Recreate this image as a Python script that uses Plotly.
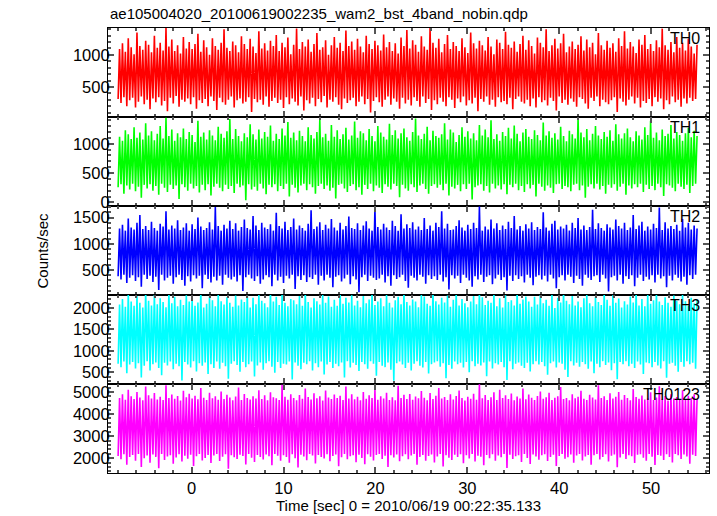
import numpy as np
import plotly.graph_objects as go
from plotly.subplots import make_subplots

title_text = "ae105004020_20100619002235_wam2_bst_4band_nobin.qdp"
x_title = "Time [sec] 0 = 2010/06/19 00:22:35.133"
y_title = "Counts/sec"
band_names = ["TH0", "TH1", "TH2", "TH3", "TH0123"]
band_colors = ["#ff0000", "#00ff00", "#0000ff", "#00ffff", "#ff00ff"]
t_start, t_end = -8.0, 55.0

th0 = [310, 1090, 250, 1180, 340, 1050, 200, 1260, 290, 1120,
       330, 1010, 180, 1350, 270, 1140, 350, 1080, 230, 1220,
       300, 1160, 150, 1040, 320, 1300, 260, 1110, 340, 1190,
       210, 1070, 280, 1420, 120, 1130, 330, 1240, 240, 1060,
       360, 1150, 190, 1020, 300, 1280, 270, 1100, 320, 1200,
       230, 1090, 340, 1170, 160, 1330, 290, 1050, 250, 1230,
       310, 1120, 200, 1000, 350, 1260, 280, 1140, 140, 1080,
       330, 1190, 260, 1400, 220, 1110, 300, 1060, 350, 1210,
       180, 1150, 290, 1040, 320, 1290, 240, 1170, 270, 1090,
       340, 1250, 110, 1130, 310, 1030, 260, 1370, 300, 1100,
       220, 1180, 350, 1070, 190, 1220, 280, 1140, 330, 1310,
       250, 1060, 300, 1190, 170, 1120, 340, 1270, 230, 1010,
       320, 1160, 270, 1410, 210, 1090, 350, 1200, 130, 1130,
       290, 1240, 240, 1050, 330, 1170, 200, 1340, 310, 1080,
       260, 1120, 360, 1230, 180, 1000, 300, 1150, 270, 1280,
       340, 1110, 220, 1190, 150, 1060, 320, 1380, 250, 1140,
       290, 1210, 330, 1080, 200, 1250, 270, 1130, 350, 1040,
       230, 1300, 310, 1170, 100, 1090, 280, 1220, 340, 1150,
       260, 1070, 190, 1320, 300, 1120, 350, 1200, 220, 1060,
       320, 1180, 270, 1020, 160, 1270, 330, 1140, 240, 1390,
       300, 1100, 210, 1230, 340, 1160, 280, 1050, 190, 1290,
       350, 1130, 250, 1080, 310, 1420, 140, 1190, 290, 1110,
       230, 1250, 330, 1040, 270, 1170, 200, 1310, 340, 1090,
       300, 1200, 170, 1140, 320, 1060, 260, 1260, 350, 1120,
       210, 1030, 290, 1350, 240, 1180, 330, 1100, 120, 1220,
       310, 1150, 270, 1070, 350, 1280, 220, 1130, 300, 1010,
       190, 1240, 340, 1190, 260, 1090, 280, 1360, 230, 1160,
       330, 1110, 150, 1210, 310, 1050, 350, 1170, 270, 1300,
       240, 1080, 300, 1230, 200, 1140, 320, 1020, 180, 1270,
       340, 1190, 260, 1120, 290, 1400, 210, 1060, 330, 1150,
       280, 1250, 130, 1100, 350, 1180, 250, 1330, 300, 1040,
       220, 1130, 320, 1210, 270, 1090, 190, 1160, 340, 1290,
       310, 1070, 240, 1240, 160, 1120, 330, 1190, 280, 1010,
       350, 1340, 200, 1150, 300, 1080, 260, 1220, 230, 1110,
       290, 1180, 340, 1050, 110, 1260, 320, 1140, 270, 1370,
       210, 1100, 300, 1200, 350, 1130, 240, 1030, 330, 1240,
       180, 1160, 280, 1310, 250, 1090, 310, 1170, 200, 1060,
       340, 1230, 270, 1120, 320, 1410, 150, 1150, 290, 1080,
       230, 1200, 350, 1040, 260, 1280, 300, 1110, 190, 1190,
       320, 1070, 240, 1250, 330, 1130, 280, 1020, 310, 1160]

th1 = [260, 1120, 310, 1050, 150, 1230, 290, 1160, 220, 1080,
       320, 1280, 190, 1100, 270, 1190, 80, 1070, 300, 1350,
       240, 1140, 310, 1210, 200, 1060, 280, 1170, 130, 1300,
       320, 1090, 250, 1440, 180, 1130, 300, 1240, 230, 1050,
       290, 1180, 60, 1110, 310, 1260, 260, 1080, 200, 1200,
       320, 1150, 240, 1030, 280, 1390, 170, 1120, 300, 1190,
       210, 1070, 310, 1230, 120, 1140, 270, 1060, 320, 1290,
       250, 1170, 190, 1100, 300, 1210, 230, 1420, 280, 1080,
       160, 1250, 320, 1130, 260, 1040, 290, 1180, 40, 1110,
       310, 1330, 220, 1160, 270, 1070, 200, 1240, 320, 1090,
       240, 1200, 140, 1120, 300, 1310, 260, 1050, 310, 1170,
       190, 1080, 280, 1260, 230, 1140, 320, 1370, 100, 1100,
       300, 1190, 250, 1060, 170, 1220, 290, 1130, 320, 1040,
       210, 1280, 310, 1150, 260, 1090, 150, 1200, 280, 1410,
       320, 1110, 230, 1170, 290, 1050, 200, 1320, 250, 1120,
       70, 1230, 300, 1080, 320, 1160, 240, 1270, 180, 1070,
       280, 1140, 310, 1380, 210, 1100, 260, 1210, 130, 1180,
       300, 1060, 230, 1250, 320, 1130, 190, 1040, 290, 1300,
       250, 1190, 160, 1120, 310, 1070, 270, 1340, 220, 1150,
       320, 1230, 280, 1090, 90, 1180, 300, 1260, 240, 1110,
       200, 1050, 310, 1200, 260, 1430, 180, 1140, 290, 1080,
       320, 1170, 230, 1290, 150, 1060, 280, 1220, 310, 1130,
       250, 1100, 300, 1160, 210, 1350, 320, 1070, 120, 1240,
       270, 1190, 240, 1030, 300, 1150, 190, 1280, 310, 1120,
       230, 1210, 320, 1090, 50, 1180, 260, 1060, 290, 1320,
       310, 1140, 200, 1240, 280, 1110, 170, 1400, 320, 1080,
       240, 1160, 290, 1050, 220, 1200, 310, 1130, 140, 1270,
       300, 1090, 260, 1310, 320, 1170, 210, 1040, 280, 1190,
       180, 1250, 310, 1120, 240, 1080, 300, 1230, 100, 1150,
       320, 1060, 270, 1360, 200, 1140, 290, 1210, 250, 1100,
       160, 1180, 310, 1070, 320, 1290, 230, 1130, 280, 1040,
       260, 1220, 190, 1160, 300, 1090, 320, 1440, 210, 1190,
       290, 1110, 80, 1250, 270, 1060, 310, 1170, 240, 1300,
       320, 1140, 220, 1080, 280, 1200, 150, 1120, 300, 1230,
       250, 1050, 310, 1330, 200, 1160, 270, 1090, 320, 1180,
       130, 1260, 290, 1110, 240, 1040, 310, 1210, 260, 1140,
       320, 1070, 180, 1280, 300, 1150, 230, 1390, 280, 1100,
       210, 1190, 320, 1060, 260, 1240, 110, 1130, 310, 1170,
       290, 1320, 250, 1090, 190, 1200, 320, 1150, 270, 1050,
       230, 1180, 300, 1270, 160, 1110, 280, 1220, 320, 1130]

th2 = [380, 1290, 320, 1360, 410, 1250, 250, 1480, 350, 1310,
       400, 1270, 290, 1400, 360, 1550, 180, 1280, 410, 1340,
       330, 1260, 390, 1420, 270, 1300, 370, 1250, 120, 1380,
       410, 1330, 300, 1620, 350, 1270, 390, 1350, 240, 1290,
       360, 1450, 410, 1260, 310, 1310, 200, 1390, 380, 1250,
       280, 1370, 400, 1280, 340, 1500, 390, 1330, 150, 1260,
       410, 1300, 330, 1410, 260, 1270, 370, 1700, 300, 1340,
       390, 1250, 220, 1360, 410, 1290, 350, 1440, 320, 1280,
       370, 1390, 280, 1250, 400, 1320, 100, 1460, 360, 1300,
       410, 1270, 340, 1530, 290, 1350, 380, 1260, 240, 1400,
       320, 1310, 400, 1280, 360, 1370, 190, 1250, 410, 1590,
       300, 1340, 370, 1290, 250, 1420, 390, 1260, 340, 1320,
       410, 1480, 140, 1270, 380, 1350, 310, 1300, 400, 1250,
       270, 1380, 360, 1640, 330, 1280, 410, 1330, 220, 1410,
       390, 1260, 300, 1360, 410, 1290, 350, 1470, 170, 1310,
       370, 1250, 400, 1400, 280, 1270, 340, 1340, 410, 1520,
       230, 1300, 380, 1280, 320, 1390, 75, 1260, 360, 1350,
       410, 1430, 290, 1290, 390, 1250, 350, 1680, 310, 1320,
       340, 1270, 410, 1380, 260, 1310, 380, 1260, 200, 1440,
       400, 1340, 330, 1250, 360, 1560, 410, 1290, 290, 1370,
       160, 1300, 390, 1410, 350, 1270, 300, 1330, 410, 1260,
       370, 1490, 240, 1280, 400, 1350, 330, 1250, 380, 1400,
       310, 1320, 410, 1620, 280, 1290, 360, 1380, 130, 1260,
       400, 1270, 340, 1340, 390, 1450, 250, 1310, 410, 1250,
       350, 1360, 300, 1280, 180, 1400, 380, 1300, 320, 1710,
       410, 1250, 270, 1330, 370, 1270, 400, 1460, 230, 1290,
       340, 1390, 410, 1260, 310, 1350, 360, 1280, 110, 1420,
       390, 1300, 290, 1530, 400, 1270, 330, 1340, 380, 1250,
       260, 1370, 410, 1290, 350, 1410, 210, 1260, 370, 1320,
       400, 1280, 320, 1600, 390, 1310, 280, 1250, 410, 1380,
       340, 1440, 150, 1270, 360, 1330, 400, 1290, 300, 1360,
       410, 1250, 370, 1400, 250, 1300, 390, 1490, 330, 1270,
       200, 1350, 410, 1260, 350, 1320, 310, 1650, 380, 1280,
       400, 1390, 270, 1300, 410, 1250, 340, 1370, 90, 1310,
       360, 1270, 390, 1460, 300, 1340, 410, 1290, 240, 1400,
       380, 1260, 330, 1310, 400, 1550, 190, 1280, 350, 1350,
       410, 1420, 290, 1250, 370, 1330, 320, 1270, 400, 1380,
       260, 1300, 410, 1690, 340, 1260, 380, 1410, 170, 1290,
       390, 1340, 300, 1280, 410, 1360, 350, 1250, 280, 1470,
       370, 1310, 220, 1400, 400, 1270, 330, 1350, 410, 1290]

th3 = [700, 2080, 620, 2210, 750, 2030, 480, 2350, 680, 2150,
       740, 2050, 590, 2280, 710, 2120, 380, 2010, 650, 2400,
       760, 2170, 540, 2060, 690, 2320, 730, 2090, 600, 2230,
       430, 2140, 720, 2020, 660, 2380, 750, 2110, 570, 2260,
       700, 2040, 640, 2190, 310, 2070, 740, 2300, 680, 2150,
       610, 2220, 760, 2050, 520, 2130, 710, 2410, 650, 2010,
       730, 2100, 460, 2270, 690, 2180, 600, 2040, 750, 2340,
       580, 2160, 720, 2080, 640, 2250, 350, 2120, 700, 2030,
       760, 2290, 670, 2060, 510, 2200, 740, 2140, 620, 2370,
       690, 2010, 750, 2240, 400, 2090, 660, 2310, 730, 2170,
       560, 2110, 710, 2020, 760, 2390, 630, 2150, 490, 2260,
       740, 2070, 600, 2330, 700, 2120, 680, 2040, 750, 2210,
       330, 2180, 730, 2090, 650, 2280, 570, 2050, 720, 2400,
       690, 2140, 760, 2010, 540, 2230, 710, 2160, 620, 2080,
       750, 2360, 450, 2120, 680, 2270, 740, 2030, 600, 2190,
       700, 2050, 640, 2420, 730, 2100, 380, 2240, 760, 2130,
       610, 2300, 720, 2060, 670, 2170, 530, 2020, 740, 2280,
       690, 2110, 580, 2200, 760, 2350, 700, 2070, 420, 2150,
       740, 2230, 650, 2040, 620, 2310, 730, 2120, 560, 2010,
       300, 2180, 710, 2260, 750, 2090, 680, 2380, 600, 2140,
       720, 2060, 540, 2200, 700, 2150, 760, 2020, 650, 2330,
       610, 2270, 740, 2100, 470, 2050, 690, 2410, 730, 2160,
       760, 2080, 630, 2240, 710, 2130, 360, 2290, 670, 2030,
       580, 2190, 750, 2370, 690, 2060, 720, 2210, 610, 2110,
       740, 2020, 500, 2150, 760, 2280, 640, 2090, 700, 2400,
       660, 2250, 730, 2070, 410, 2170, 750, 2120, 590, 2340,
       710, 2040, 680, 2230, 740, 2010, 620, 2300, 320, 2140,
       760, 2180, 570, 2060, 700, 2390, 730, 2100, 650, 2200,
       600, 2270, 720, 2150, 520, 2030, 690, 2260, 760, 2080,
       680, 2350, 740, 2110, 640, 2190, 440, 2050, 710, 2310,
       750, 2000, 610, 2240, 730, 2130, 700, 2420, 560, 2170,
       390, 2090, 760, 2280, 660, 2060, 720, 2150, 630, 2020,
       740, 2230, 690, 2330, 580, 2110, 750, 2040, 480, 2260,
       700, 2140, 620, 2070, 760, 2380, 670, 2190, 730, 2050,
       550, 2300, 710, 2120, 340, 2220, 740, 2010, 690, 2160,
       760, 2080, 640, 2270, 700, 2130, 600, 2400, 750, 2060,
       680, 2210, 460, 2040, 730, 2320, 710, 2100, 620, 2180,
       740, 2360, 660, 2150, 590, 2070, 760, 2250, 370, 2120,
       700, 2030, 720, 2290, 650, 2170, 510, 2090, 740, 2340,
       630, 2160, 760, 2050, 690, 2240, 720, 2110, 580, 2200]

th0123 = [2100, 4720, 1950, 4900, 2180, 4650, 1700, 5100, 2050, 4800,
          2150, 4680, 1880, 5000, 2190, 4750, 1600, 4620, 2000, 5250,
          2120, 4850, 1800, 4700, 2170, 4950, 2060, 4660, 1550, 4780,
          2190, 4640, 1920, 5300, 2080, 4730, 2140, 4880, 1750, 4690,
          2030, 4820, 2180, 4610, 1850, 5050, 2110, 4760, 1980, 4920,
          2160, 4700, 1650, 4830, 2090, 4670, 2190, 5180, 1900, 4740,
          2010, 4630, 2150, 4960, 1780, 4710, 2120, 4800, 2190, 4650,
          1870, 5020, 2070, 4680, 2180, 4870, 1520, 4750, 2130, 4620,
          2040, 4790, 1960, 5200, 2160, 4640, 2100, 4910, 1720, 4730,
          2190, 4660, 2020, 4800, 1830, 4700, 2150, 5080, 2060, 4680,
          1940, 4850, 2170, 4620, 2090, 4990, 1680, 4760, 2190, 4710,
          2110, 4640, 1890, 5330, 2140, 4780, 2050, 4650, 1800, 4900,
          2180, 4730, 2000, 4620, 1580, 4860, 2160, 4690, 2080, 5150,
          1910, 4770, 2190, 4660, 2120, 4940, 1760, 4710, 2150, 4800,
          2060, 4610, 1990, 5060, 2180, 4750, 1860, 4680, 2100, 4880,
          2170, 4720, 1640, 4830, 2040, 4640, 2190, 5250, 1950, 4700,
          2090, 4900, 2130, 4670, 1820, 4780, 2160, 4620, 2010, 5000,
          1730, 4690, 2180, 4850, 2070, 4730, 1900, 5120, 2150, 4650,
          2190, 4810, 1970, 4700, 2110, 4960, 1600, 4640, 2140, 4760,
          2030, 4620, 2170, 5280, 1860, 4720, 2090, 4870, 2180, 4680,
          1950, 4910, 2120, 4650, 2190, 4790, 1700, 4710, 2060, 5040,
          2150, 4740, 1880, 4620, 2100, 4950, 2170, 4680, 1810, 4830,
          2080, 5180, 2190, 4700, 1620, 4770, 2130, 4640, 2020, 4890,
          1920, 4660, 2160, 4820, 2050, 5070, 2180, 4730, 1770, 4610,
          2140, 4780, 1990, 4690, 2190, 4920, 1850, 4650, 2110, 5350,
          2070, 4710, 1680, 4860, 2150, 4630, 2000, 4760, 2180, 4990,
          1890, 4640, 2120, 5100, 2040, 4720, 2190, 4850, 1560, 4680,
          2160, 4930, 1960, 4620, 2090, 4790, 2140, 4700, 1830, 5160,
          2190, 4670, 2010, 4880, 1740, 4740, 2170, 4640, 2080, 4820,
          1930, 5020, 2130, 4690, 2180, 4760, 1870, 4960, 2050, 4630,
          2160, 4740, 1650, 4810, 2100, 5220, 2190, 4680, 1980, 4720,
          2040, 4620, 2170, 4900, 1800, 4710, 2120, 4780, 2190, 5050,
          1900, 4690, 2080, 4640, 2150, 4870, 1710, 4750, 2140, 4660,
          2190, 5300, 1940, 4720, 2060, 4810, 2180, 4630, 1850, 4940,
          2110, 4700, 2170, 4780, 1590, 5000, 2030, 4650, 2190, 4860,
          1960, 4730, 2130, 4620, 2090, 5130, 1780, 4770, 2160, 4690,
          2180, 4840, 2020, 4660, 1880, 4710, 2190, 4980, 2070, 4640,
          1690, 4750, 2150, 5260, 2110, 4680, 1920, 4820, 2180, 4610,
          2050, 4890, 1810, 4700, 2190, 4770, 2140, 4650, 1970, 5080,
          2170, 4660, 2080, 4830, 1750, 4720, 2160, 4900, 2100, 4680]

series = [th0, th1, th2, th3, th0123]
y_ranges = [[30, 1420], [-60, 1455], [23, 1720], [226, 2304], [1330, 5360]]
y_dticks = [500, 500, 500, 500, 1000]
y_minor = [100, 100, 100, 100, 200]
x_range = [-9.1, 56.3]

FONT = "Liberation Sans, Arial, Helvetica, sans-serif"
TICK_FONT = dict(size=16.5, color="black", family=FONT)
TICK_COL = "#555555"

fig = make_subplots(rows=5, cols=1, shared_xaxes=True, vertical_spacing=0)

for i, (vals, name, col) in enumerate(zip(series, band_names, band_colors)):
    t = np.linspace(t_start, t_end, len(vals))
    fig.add_trace(go.Scatter(x=t, y=vals, mode="lines", name=name,
                             line=dict(color=col, width=1.6, simplify=False),
                             showlegend=False),
                  row=i + 1, col=1)
    fig.update_yaxes(range=y_ranges[i], dtick=y_dticks[i], tick0=0,
                     ticks="inside", ticklen=6, tickcolor=TICK_COL, tickwidth=1.5,
                     showline=True, linecolor="black", linewidth=1.2, mirror="ticks",
                     showgrid=False, zeroline=False, ticklabelstandoff=-6,
                     minor=dict(dtick=y_minor[i], ticklen=3, ticks="inside",
                                tickcolor=TICK_COL, tickwidth=1.5),
                     tickfont=TICK_FONT,
                     row=i + 1, col=1)
    fig.update_xaxes(range=x_range, dtick=10, tick0=0,
                     ticks="inside", ticklen=6, tickcolor=TICK_COL, tickwidth=1.5,
                     showline=True, linecolor="black", linewidth=1.2, mirror="ticks",
                     showgrid=False, zeroline=False,
                     minor=dict(dtick=2, ticklen=3, ticks="inside",
                                tickcolor=TICK_COL, tickwidth=1.5),
                     tickfont=TICK_FONT,
                     row=i + 1, col=1)
    yref = "y domain" if i == 0 else f"y{i + 1} domain"
    fig.add_annotation(text=name, xref="paper", x=0.988, xanchor="right",
                       yref=yref, y=1.0, yanchor="top", showarrow=False,
                       font=dict(size=16, color="black", family=FONT))

fig.add_annotation(text=title_text, xref="paper", x=0, xanchor="left",
                   yref="paper", y=1, yanchor="bottom", yshift=4, showarrow=False,
                   font=dict(size=15, color="black", family=FONT))
fig.add_annotation(text=y_title, xref="paper", x=0, xanchor="center", xshift=-66,
                   yref="paper", y=0.5, yanchor="middle", textangle=-90, showarrow=False,
                   font=dict(size=15, color="black", family=FONT))
fig.update_xaxes(title=dict(text=x_title, standoff=2,
                            font=dict(size=15, color="black", family=FONT)),
                 row=5, col=1)

fig.update_layout(width=717, height=516, margin=dict(l=108, r=7, t=28, b=40),
                  plot_bgcolor="white", paper_bgcolor="white",
                  font=dict(family=FONT, color="black"))

fig.write_html("out.html", config={"displayModeBar": False},
               post_script="document.body.style.margin='0';")
